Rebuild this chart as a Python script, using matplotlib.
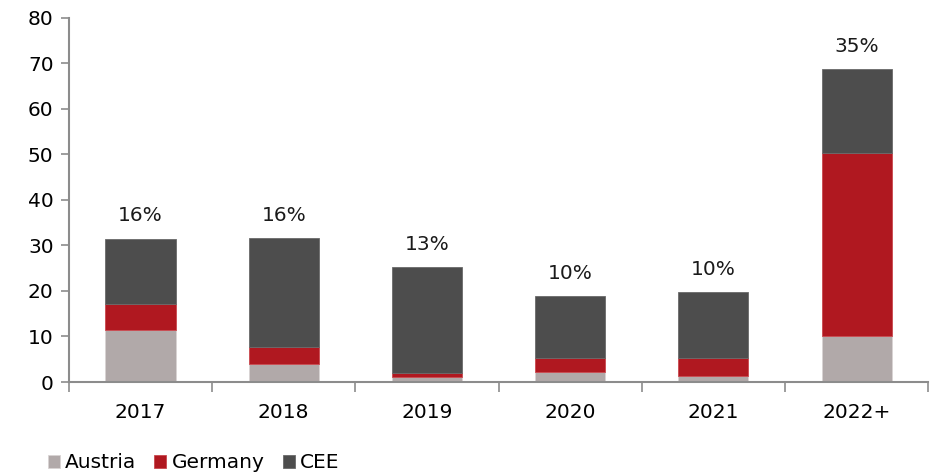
import numpy as np
import matplotlib
matplotlib.use("Agg")
import matplotlib.pyplot as plt

years = ["2017", "2018", "2019", "2020", "2021", "2022+"]
austria = [11.5, 4.0, 1.0, 2.3, 1.3, 10.1]
germany = [5.7, 3.6, 0.9, 3.0, 4.0, 40.2]
cee = [14.3, 24.0, 23.3, 13.5, 14.5, 18.4]
shares = ["16%", "16%", "13%", "10%", "10%", "35%"]

c_aut = "#b1a9a9"
c_ger = "#b01820"
c_cee = "#4d4d4d"
grey = "#8c8c8c"

plt.rcParams["font.family"] = ["DejaVu Sans"]

fig = plt.figure(figsize=(9.31, 4.74), dpi=100)
ax = fig.add_axes([0.074, 0.194, 0.923, 0.769])

x = np.arange(len(years))
w = 0.49
aut = np.array(austria)
ger = np.array(germany)
ce = np.array(cee)

ax.bar(x, aut, w, color=c_aut, label="Austria", edgecolor="#d9d4d4", linewidth=0.6)
ax.bar(x, ger, w, bottom=aut, color=c_ger, label="Germany", edgecolor="#c9484e", linewidth=0.6)
ax.bar(x, ce, w, bottom=aut + ger, color=c_cee, label="CEE", edgecolor="#6a6a6a", linewidth=0.6)

tot = aut + ger + ce
for xi, t, s in zip(x, tot, shares):
    ax.text(xi, t + 2.9, s, ha="center", va="bottom", fontsize=14.5, color="#1a1a1a")

ax.set_xlim(-0.5, len(years) - 0.5)
ax.set_ylim(0, 80)
ax.set_yticks(range(0, 81, 10))
ax.tick_params(axis="y", labelsize=14.5, length=6, color=grey, width=1.2, pad=5)

ax.set_xticks(x)
ax.set_xticklabels(years, fontsize=14.5)
ax.tick_params(axis="x", length=0, pad=15)
ax.set_xticks(np.arange(-0.5, len(years), 1), minor=True)
ax.tick_params(axis="x", which="minor", length=7, color=grey, width=1.2)

for sp in ["top", "right"]:
    ax.spines[sp].set_visible(False)
for sp in ["left", "bottom"]:
    ax.spines[sp].set_color(grey)
    ax.spines[sp].set_linewidth(1.5)

fig.legend(loc="lower left", bbox_to_anchor=(0.032, -0.035), ncol=3, frameon=False,
           fontsize=14.5, handlelength=0.6, handleheight=0.6, handletextpad=0.25,
           columnspacing=0.9)

fig.savefig("out.png", dpi=100)
